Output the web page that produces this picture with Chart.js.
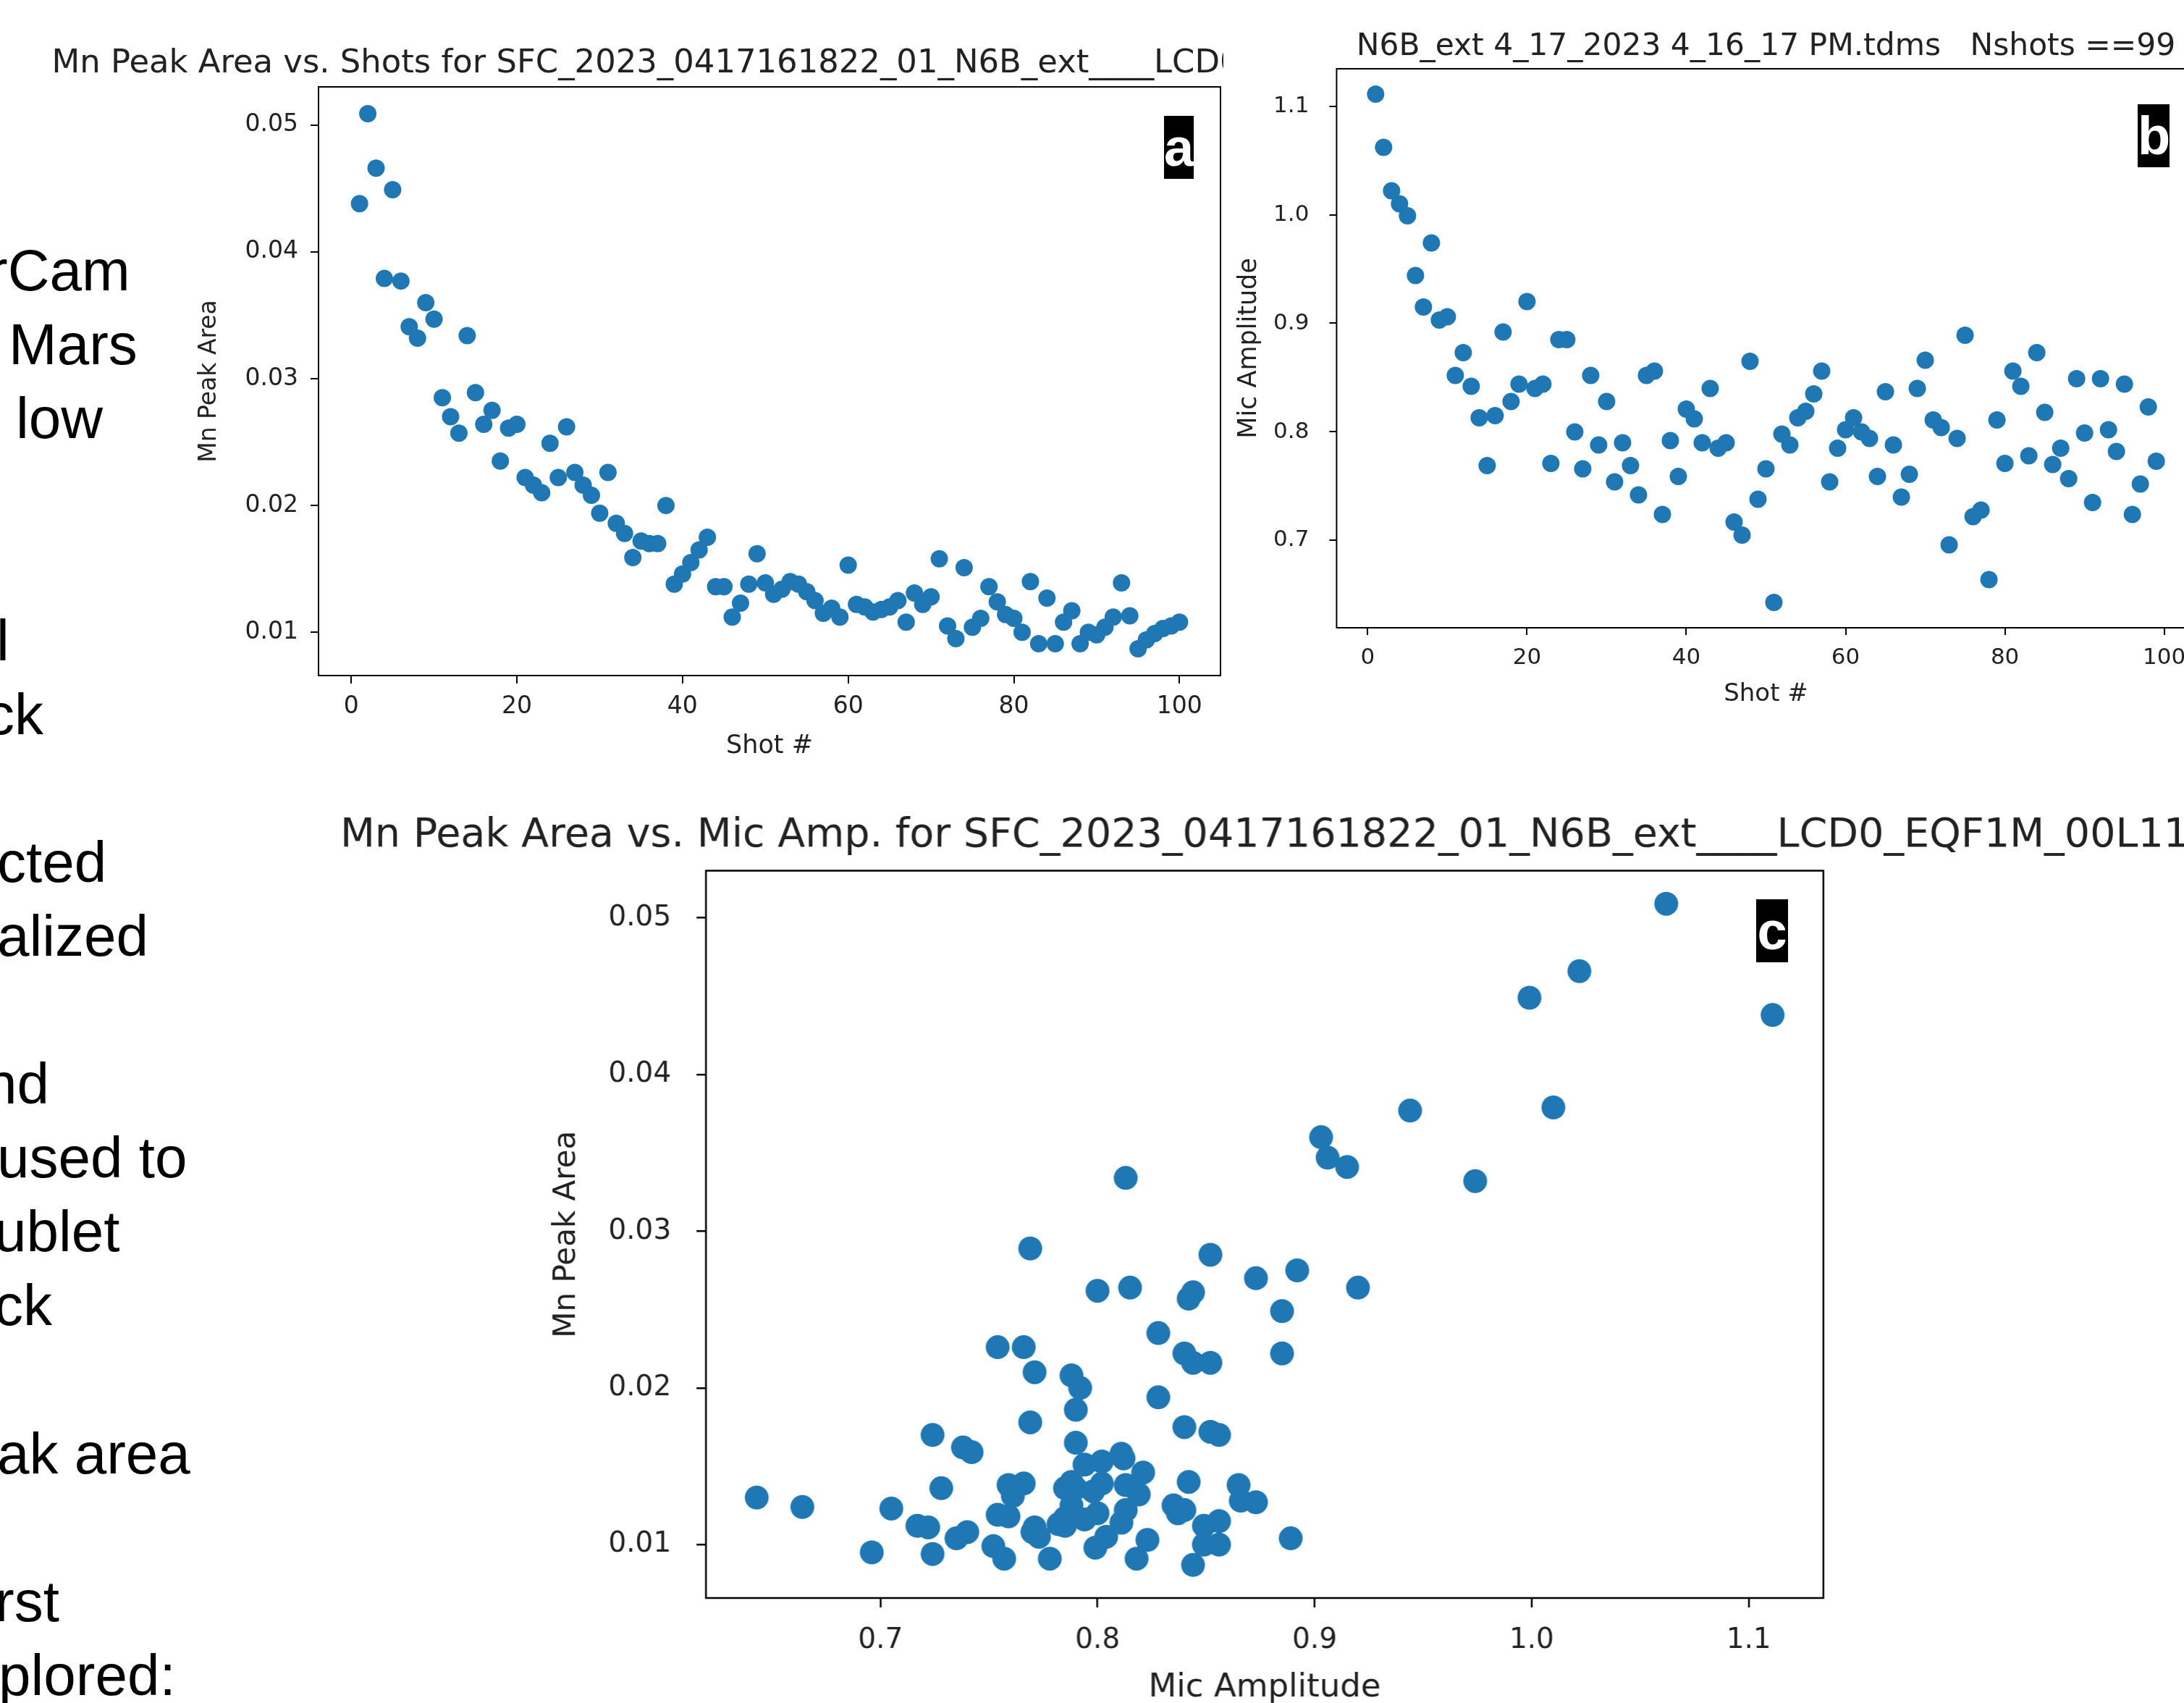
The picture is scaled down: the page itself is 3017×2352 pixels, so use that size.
<!DOCTYPE html>
<html>
<head>
<meta charset="utf-8">
<script src="https://cdn.jsdelivr.net/npm/chart.js@4.4.0/dist/chart.umd.min.js"></script>
<style>
  html, body { margin: 0; padding: 0; width: 3017px; height: 2352px; overflow: hidden; background: #fff; }
  canvas { position: absolute; }
  #cb { background: #fff; }
  .slide { position: absolute; font-family: "Liberation Sans", Arial, sans-serif; font-size: 80px; line-height: 80px; white-space: pre; color: #000; }
  .tag { position: absolute; background: #000; color: #fff; font-family: "Liberation Sans", Arial, sans-serif; font-weight: bold; font-size: 74px; line-height: 87px; height: 87px; text-align: center; }
</style>
</head>
<body>
<div id="left"></div>
<canvas id="ca"></canvas>
<canvas id="cc"></canvas>
<canvas id="cb"></canvas>
<div class="tag" style="left:1608px; top:160px; width:41px;">a</div>
<div class="tag" style="left:2953px; top:144px; width:44px;">b</div>
<div class="tag" style="left:2426px; top:1242px; width:44px;">c</div>
<script>
// ---------------- data ----------------
const shotNumbers = [1,2,3,4,5,6,7,8,9,10,11,12,13,14,15,16,17,18,19,20,
  21,22,23,24,25,26,27,28,29,30,31,32,33,34,35,36,37,38,39,40,
  41,42,43,44,45,46,47,48,49,50,51,52,53,54,55,56,57,58,59,60,
  61,62,63,64,65,66,67,68,69,70,71,72,73,74,75,76,77,78,79,80,
  81,82,83,84,85,86,87,88,89,90,91,92,93,94,95,96,97,98,99,100];

const mnPeakArea = [
  0.0438, 0.0509, 0.0466, 0.0379, 0.0449, 0.0377, 0.0341, 0.0332, 0.0360, 0.0347,
  0.0285, 0.0270, 0.0257, 0.0334, 0.0289, 0.0264, 0.0275, 0.0235, 0.0261, 0.0264,
  0.0222, 0.0216, 0.0210, 0.0249, 0.0222, 0.0262, 0.0226, 0.0216, 0.0208, 0.0194,
  0.0226, 0.0186, 0.0178, 0.0159, 0.0172, 0.0170, 0.0170, 0.0200, 0.0138, 0.0146,
  0.0155, 0.0165, 0.0175, 0.0136, 0.0136, 0.0112, 0.0123, 0.0138, 0.0162, 0.0139,
  0.0130, 0.0134, 0.0140, 0.0138, 0.0132, 0.0125, 0.0115, 0.0119, 0.0112, 0.0153,
  0.0122, 0.0120, 0.0116, 0.0118, 0.0120, 0.0125, 0.0108, 0.0131, 0.0122, 0.0128,
  0.0158, 0.0105, 0.0095, 0.0151, 0.0104, 0.0111, 0.0136, 0.0124, 0.0114, 0.0111,
  0.0100, 0.0140, 0.0091, 0.0127, 0.0091, 0.0108, 0.0117, 0.0091, 0.0100, 0.0098,
  0.0104, 0.0112, 0.0139, 0.0113, 0.0087, 0.0094, 0.0099, 0.0103, 0.0105, 0.0108
];

const micAmplitude = [
  1.111, 1.062, 1.022, 1.010, 0.999, 0.944, 0.915, 0.974, 0.903, 0.906,
  0.852, 0.873, 0.842, 0.813, 0.769, 0.815, 0.892, 0.828, 0.844, 0.920,
  0.840, 0.844, 0.771, 0.885, 0.885, 0.800, 0.766, 0.852, 0.788, 0.828,
  0.754, 0.790, 0.769, 0.742, 0.852, 0.856, 0.724, 0.792, 0.759, 0.821,
  0.812, 0.790, 0.840, 0.785, 0.790, 0.717, 0.705, 0.865, 0.738, 0.766,
  0.643, 0.798, 0.788, 0.813, 0.819, 0.835, 0.856, 0.754, 0.785, 0.802,
  0.813, 0.800, 0.794, 0.759, 0.837, 0.788, 0.740, 0.761, 0.840, 0.866,
  0.811, 0.804, 0.696, 0.794, 0.889, 0.722, 0.728, 0.664, 0.811, 0.771,
  0.856, 0.842, 0.778, 0.873, 0.818, 0.770, 0.785, 0.757, 0.849, 0.799,
  0.735, 0.849, 0.802, 0.782, 0.844, 0.724, 0.752, 0.823, 0.773
];

const shotTicks = [0, 20, 40, 60, 80, 100];
const areaTicks = [0.01, 0.02, 0.03, 0.04, 0.05];
const micTicks = [0.7, 0.8, 0.9, 1.0, 1.1];

const titleA = "Mn Peak Area vs. Shots for SFC_2023_0417161822_01_N6B_ext____LCD0_EQF1M_00L11";
const titleB = "N6B_ext 4_17_2023 4_16_17 PM.tdms   Nshots ==99";
const titleC = "Mn Peak Area vs. Mic Amp. for SFC_2023_0417161822_01_N6B_ext____LCD0_EQF1M_00L11";

const slideFragments = ["rCam", "Mars", "low", "l", "ck", "cted", "alized", "nd", "used to", "ublet", "ck", "ak area", "rst", "plored:"];
const slideRows = [0, 1, 2, 5, 6, 8, 9, 11, 12, 13, 14, 16, 18, 19];
const slideIndents = [-16, 12, 22, -5, -20, -4, -4, -21, -4, -8, -8, -4, -7, -2];

// ---------------- slide text (cropped) ----------------
const left = document.getElementById('left');
slideFragments.forEach((t, i) => {
  const d = document.createElement('div');
  d.className = 'slide';
  d.textContent = t;
  const baseline = 402 + 102.1 * slideRows[i];
  d.style.left = slideIndents[i] + 'px';
  d.style.top = (baseline - 68) + 'px';
  left.appendChild(d);
});

// ---------------- charts ----------------
const FONT = '"DejaVu Sans", sans-serif';
const INK = '#222222';
const BLUE = '#1f77b4';
Chart.defaults.font.family = FONT;

function autoRange(vals) {
  const lo = Math.min(...vals), hi = Math.max(...vals), m = (hi - lo) * 0.05;
  return [lo - m, hi + m];
}

const framePlugin = {
  id: 'frame',
  afterDatasetsDraw(chart, args, opts) {
    const { ctx, chartArea: a } = chart;
    ctx.save();
    ctx.strokeStyle = '#000';
    ctx.lineWidth = opts.width || 2;
    ctx.strokeRect(a.left, a.top, a.right - a.left, a.bottom - a.top);
    ctx.restore();
  }
};

function axis(o) {
  return {
    type: 'linear',
    position: o.position,
    min: o.range[0], max: o.range[1],
    afterBuildTicks: s => { s.ticks = o.ticks.map(v => ({ value: v })); },
    afterFit: s => {
      if (o.position === 'bottom') s.height = o.size; else s.width = o.size;
      s.paddingLeft = 0; s.paddingRight = 0; s.paddingTop = 0; s.paddingBottom = 0;
    },
    grid: { display: true, drawOnChartArea: false, drawTicks: true, tickLength: o.tickLen,
            color: '#000', tickColor: '#000', lineWidth: o.tickW, tickWidth: o.tickW },
    border: { display: false },
    ticks: { font: { family: FONT, size: o.tickFont }, color: INK, padding: o.tickPad,
             maxRotation: 0, minRotation: 0, autoSkip: false, callback: v => o.fmt(v) },
    title: { display: true, text: o.title, color: INK, font: { family: FONT, size: o.titleFont, weight: 'normal' },
             padding: o.titlePad }
  };
}

function dummyRight(size) {
  return {
    type: 'linear', position: 'right', min: 0, max: 1, display: true,
    grid: { display: false }, border: { display: false }, ticks: { display: false },
    afterFit: s => { s.width = size; s.paddingTop = 0; s.paddingBottom = 0; }
  };
}

function makeChart(id, p) {
  const cv = document.getElementById(id);
  cv.width = p.W; cv.height = p.H;
  cv.style.left = p.left + 'px'; cv.style.top = p.top + 'px';
  cv.style.width = p.W + 'px'; cv.style.height = p.H + 'px';
  return new Chart(cv, {
    type: 'scatter',
    data: { datasets: [{ data: p.points, backgroundColor: BLUE, borderWidth: 0,
                         pointRadius: p.r, pointHoverRadius: p.r }] },
    options: {
      responsive: false, animation: false, devicePixelRatio: 1, events: [],
      layout: { padding: 0 },
      plugins: {
        legend: { display: false }, tooltip: { enabled: false },
        title: { display: true, text: p.title, color: INK, align: 'center',
                 font: { family: FONT, size: p.titleFont, weight: 'normal', lineHeight: 1.2 },
                 padding: { top: p.titlePadTop, bottom: p.titlePadBottom } },
        frame: { width: p.frameW }
      },
      scales: { x: p.x, y: p.y, yR: dummyRight(p.side) }
    },
    plugins: [framePlugin]
  });
}

const fmt2 = v => v.toFixed(2);
const fmt1 = v => v.toFixed(1);
const fmt0 = v => String(v);

// Panel a : Mn peak area vs shot
const aPoints = shotNumbers.map((s, i) => ({ x: s, y: mnPeakArea[i] }));
makeChart('ca', {
  left: 0, top: 0, W: 2126, H: 1070, side: 440, r: 12, frameW: 2,
  points: aPoints, title: titleA, titleFont: 44.9, titlePadTop: 61.6, titlePadBottom: 4.5,
  x: axis({ position: 'bottom', range: autoRange(shotNumbers), ticks: shotTicks, fmt: fmt0, size: 137,
            tickLen: 11, tickW: 2, tickFont: 33, tickPad: 12.5, title: 'Shot #', titleFont: 35,
            titlePad: { top: 0, bottom: 18 } }),
  y: axis({ position: 'left', range: autoRange(mnPeakArea), ticks: areaTicks, fmt: fmt2, size: 440,
            tickLen: 11, tickW: 2, tickFont: 33, tickPad: 17, title: 'Mn Peak Area', titleFont: 33,
            titlePad: { top: 269.2, bottom: 0 } })
});

// Panel c : Mn peak area vs mic amplitude
const cPoints = micAmplitude.map((m, i) => ({ x: m, y: mnPeakArea[i] }));
makeChart('cc', {
  left: 400, top: 1100, W: 2693.5, H: 1300, side: 575, r: 16.5, frameW: 2.5,
  points: cPoints, title: titleC, titleFont: 55.5, titlePadTop: 21.5, titlePadBottom: 14.4,
  x: axis({ position: 'bottom', range: autoRange(micAmplitude), ticks: micTicks, fmt: fmt1, size: 193,
            tickLen: 13, tickW: 2.5, tickFont: 39, tickPad: 22, title: 'Mic Amplitude', titleFont: 45,
            titlePad: { top: 0, bottom: 42 } }),
  y: axis({ position: 'left', range: autoRange(mnPeakArea.slice(0, micAmplitude.length)), ticks: areaTicks, fmt: fmt2, size: 575,
            tickLen: 13, tickW: 2.5, tickFont: 39, tickPad: 35, title: 'Mn Peak Area', titleFont: 42,
            titlePad: { top: 358, bottom: 0 } })
});

// Panel b : mic amplitude vs shot
const bShots = shotNumbers.slice(0, micAmplitude.length);
const bPoints = bShots.map((s, i) => ({ x: s, y: micAmplitude[i] }));
makeChart('cb', {
  left: 1690, top: 0, W: 1499, H: 1000, side: 156.4, r: 12, frameW: 2,
  points: bPoints, title: titleB, titleFont: 42.4, titlePadTop: 40, titlePadBottom: 4.1,
  x: axis({ position: 'bottom', range: autoRange(bShots), ticks: shotTicks, fmt: fmt0, size: 133,
            tickLen: 10, tickW: 2, tickFont: 31, tickPad: 13, title: 'Shot #', titleFont: 34,
            titlePad: { top: 0, bottom: 20 } }),
  y: axis({ position: 'left', range: autoRange(micAmplitude), ticks: micTicks, fmt: fmt1, size: 156.4,
            tickLen: 10, tickW: 2, tickFont: 31, tickPad: 28, title: 'Mic Amplitude', titleFont: 35,
            titlePad: { top: 15, bottom: 0 } })
});
</script>
</body>
</html>
